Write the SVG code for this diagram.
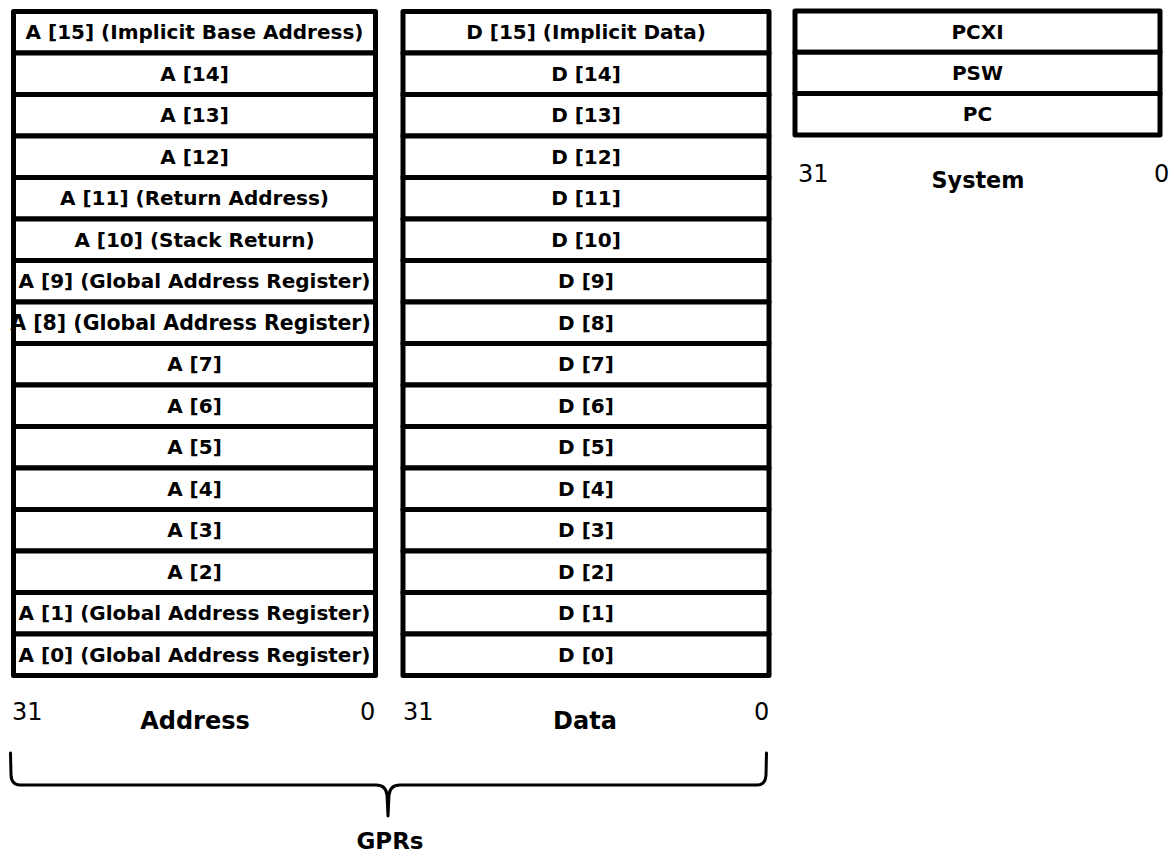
<svg xmlns="http://www.w3.org/2000/svg" width="1174" height="868" viewBox="0 0 1174 868">
<style>
.cell{fill:#fff;stroke:#000;stroke-width:5;stroke-linejoin:round}
.lbl{font-family:"DejaVu Sans",sans-serif;font-weight:bold;font-size:20px;fill:#000;text-anchor:middle}
.num{font-family:"DejaVu Sans",sans-serif;font-size:24px;fill:#000}
.cap{font-family:"DejaVu Sans",sans-serif;font-weight:bold;font-size:24px;fill:#000;text-anchor:middle}
.brace{fill:none;stroke:#000;stroke-width:3;stroke-linecap:round;stroke-linejoin:round}
</style>
<rect width="1174" height="868" fill="#fff"/>
<g id="address">
<g id="a15"><rect class="cell" x="13.5" y="11.5" width="362" height="41.5"/><text class="lbl" x="194.5" y="39">A [15] (Implicit Base Address)</text></g>
<g id="a14"><rect class="cell" x="13.5" y="53" width="362" height="41.5"/><text class="lbl" x="194.5" y="80.5">A [14]</text></g>
<g id="a13"><rect class="cell" x="13.5" y="94.5" width="362" height="41.5"/><text class="lbl" x="194.5" y="122">A [13]</text></g>
<g id="a12"><rect class="cell" x="13.5" y="136" width="362" height="41.5"/><text class="lbl" x="194.5" y="163.5">A [12]</text></g>
<g id="a11"><rect class="cell" x="13.5" y="177.5" width="362" height="41.5"/><text class="lbl" x="194.5" y="205">A [11] (Return Address)</text></g>
<g id="a10"><rect class="cell" x="13.5" y="219" width="362" height="41.5"/><text class="lbl" x="194.5" y="246.5">A [10] (Stack Return)</text></g>
<g id="a9"><rect class="cell" x="13.5" y="260.5" width="362" height="41.5"/><text class="lbl" x="194.5" y="288">A [9] (Global Address Register)</text></g>
<g id="a8"><rect class="cell" x="13.5" y="302" width="362" height="41.5"/><text class="lbl" x="190.5" y="329.8" style="font-size:20.5px">A [8] (Global Address Register)</text></g>
<g id="a7"><rect class="cell" x="13.5" y="343.5" width="362" height="41.5"/><text class="lbl" x="194.5" y="371">A [7]</text></g>
<g id="a6"><rect class="cell" x="13.5" y="385" width="362" height="41.5"/><text class="lbl" x="194.5" y="412.5">A [6]</text></g>
<g id="a5"><rect class="cell" x="13.5" y="426.5" width="362" height="41.5"/><text class="lbl" x="194.5" y="454">A [5]</text></g>
<g id="a4"><rect class="cell" x="13.5" y="468" width="362" height="41.5"/><text class="lbl" x="194.5" y="495.5">A [4]</text></g>
<g id="a3"><rect class="cell" x="13.5" y="509.5" width="362" height="41.5"/><text class="lbl" x="194.5" y="537">A [3]</text></g>
<g id="a2"><rect class="cell" x="13.5" y="551" width="362" height="41.5"/><text class="lbl" x="194.5" y="578.5">A [2]</text></g>
<g id="a1"><rect class="cell" x="13.5" y="592.5" width="362" height="41.5"/><text class="lbl" x="194.5" y="620">A [1] (Global Address Register)</text></g>
<g id="a0"><rect class="cell" x="13.5" y="634" width="362" height="41.5"/><text class="lbl" x="194.5" y="661.5">A [0] (Global Address Register)</text></g>
</g>
<g id="data">
<g id="d15"><rect class="cell" x="403" y="11.5" width="366" height="41.5"/><text class="lbl" x="586" y="39">D [15] (Implicit Data)</text></g>
<g id="d14"><rect class="cell" x="403" y="53" width="366" height="41.5"/><text class="lbl" x="586" y="80.5">D [14]</text></g>
<g id="d13"><rect class="cell" x="403" y="94.5" width="366" height="41.5"/><text class="lbl" x="586" y="122">D [13]</text></g>
<g id="d12"><rect class="cell" x="403" y="136" width="366" height="41.5"/><text class="lbl" x="586" y="163.5">D [12]</text></g>
<g id="d11"><rect class="cell" x="403" y="177.5" width="366" height="41.5"/><text class="lbl" x="586" y="205">D [11]</text></g>
<g id="d10"><rect class="cell" x="403" y="219" width="366" height="41.5"/><text class="lbl" x="586" y="246.5">D [10]</text></g>
<g id="d9"><rect class="cell" x="403" y="260.5" width="366" height="41.5"/><text class="lbl" x="586" y="288">D [9]</text></g>
<g id="d8"><rect class="cell" x="403" y="302" width="366" height="41.5"/><text class="lbl" x="586" y="329.5">D [8]</text></g>
<g id="d7"><rect class="cell" x="403" y="343.5" width="366" height="41.5"/><text class="lbl" x="586" y="371">D [7]</text></g>
<g id="d6"><rect class="cell" x="403" y="385" width="366" height="41.5"/><text class="lbl" x="586" y="412.5">D [6]</text></g>
<g id="d5"><rect class="cell" x="403" y="426.5" width="366" height="41.5"/><text class="lbl" x="586" y="454">D [5]</text></g>
<g id="d4"><rect class="cell" x="403" y="468" width="366" height="41.5"/><text class="lbl" x="586" y="495.5">D [4]</text></g>
<g id="d3"><rect class="cell" x="403" y="509.5" width="366" height="41.5"/><text class="lbl" x="586" y="537">D [3]</text></g>
<g id="d2"><rect class="cell" x="403" y="551" width="366" height="41.5"/><text class="lbl" x="586" y="578.5">D [2]</text></g>
<g id="d1"><rect class="cell" x="403" y="592.5" width="366" height="41.5"/><text class="lbl" x="586" y="620">D [1]</text></g>
<g id="d0"><rect class="cell" x="403" y="634" width="366" height="41.5"/><text class="lbl" x="586" y="661.5">D [0]</text></g>
</g>
<g id="system">
<g id="pcxi"><rect class="cell" x="795" y="11" width="365" height="41.3"/><text class="lbl" x="977.5" y="38.5">PCXI</text></g>
<g id="psw"><rect class="cell" x="795" y="52.3" width="365" height="41.3"/><text class="lbl" x="977.5" y="79.8">PSW</text></g>
<g id="pc"><rect class="cell" x="795" y="93.6" width="365" height="41.4"/><text class="lbl" x="977.5" y="121.2">PC</text></g>
</g>
<g id="labels">
<text class="num" x="12" y="720">31</text>
<text class="cap" x="195" y="729">Address</text>
<text class="num" x="360" y="720">0</text>
<text class="num" x="403" y="720">31</text>
<text class="cap" x="585" y="729">Data</text>
<text class="num" x="754" y="720">0</text>
<text class="num" x="798" y="182">31</text>
<text class="cap" x="978" y="188" style="font-size:22.3px">System</text>
<text class="num" x="1154" y="182">0</text>
<text class="cap" x="390" y="849" style="font-size:23px">GPRs</text>
</g>
<g id="connectors">
<path class="brace" d="M 10.5 753 L 11 775 Q 11.5 785 20 785 L 376 785 Q 386 785 387 795 L 388 816 L 389 795 Q 390 785 400 785 L 757 785 Q 765.5 785 766 775 L 766.5 753"/>
</g>
</svg>
